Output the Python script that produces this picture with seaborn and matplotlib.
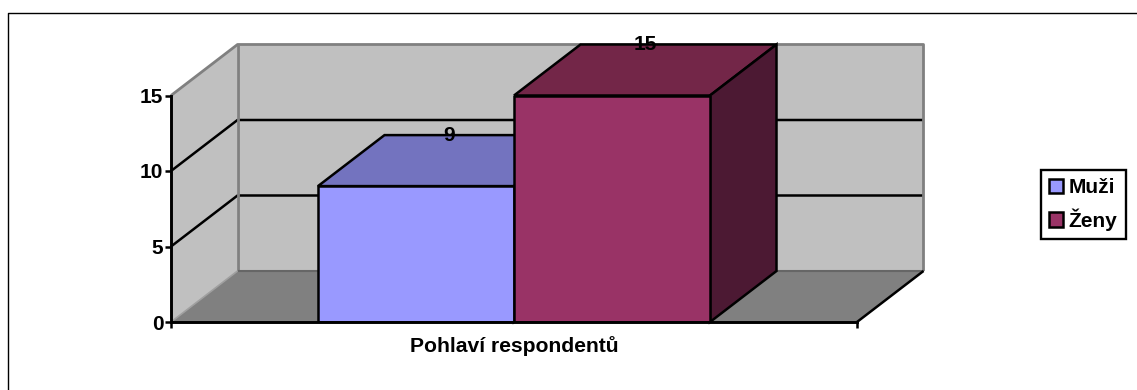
import pandas as pd
import matplotlib
matplotlib.use("Agg")
import matplotlib.pyplot as plt
from matplotlib.patches import Polygon, Rectangle
from matplotlib.lines import Line2D
import seaborn as sns

categories = ["Pohlaví respondentů", "Pohlaví respondentů"]
series = ["Muži", "Ženy"]
values = [9, 15]
y_ticks = [0, 5, 10, 15]

colors = ["#9999FF", "#993366"]
top_colors = ["#7373BF", "#732648"]
side_colors = ["#4C4C80", "#4C1933"]

W, H = 1137, 390
sns.set_theme(style="white", rc={"text.color": "black", "xtick.color": "black", "ytick.color": "black",
                                 "axes.labelcolor": "black"})
plt.rcParams["font.family"] = ["Liberation Sans", "DejaVu Sans"]
plt.rcParams["font.weight"] = "bold"

df = pd.DataFrame({"kat": categories, "pohlavi": series, "pocet": values})

fig = plt.figure(figsize=(W / 100, H / 100), dpi=100)
ax = fig.add_axes([171 / W, (H - 322) / H, 686 / W, 226.5 / H])
ax.patch.set_visible(False)

sns.barplot(data=df, x="kat", y="pocet", hue="pohlavi", palette=colors, hue_order=series,
            width=392 / 686, gap=0, legend=False, saturation=1, edgecolor="black", linewidth=1.8,
            zorder=5, ax=ax)
ax.set_xlim(-0.5, 0.5)
ax.set_ylim(0, 15)

# hloubka 3D sceny v jednotkach dat
dx = 66.5 / 686
dy = 51 / 226.5 * 15
x0, x1 = -0.5, 0.5


def poly(points, fc, ec="none", lw=0, z=1):
    ax.add_patch(Polygon(points, closed=True, facecolor=fc, edgecolor=ec, linewidth=lw,
                         zorder=z, clip_on=False, joinstyle="miter"))


def line(xs, ys, color="black", lw=1.8, z=2):
    ax.plot(xs, ys, color=color, lw=lw, zorder=z, clip_on=False, solid_capstyle="butt")


# steny a podlaha
poly([(x0 + dx, dy), (x1 + dx, dy), (x1 + dx, 15 + dy), (x0 + dx, 15 + dy)], "#C0C0C0")
poly([(x0, 0), (x0 + dx, dy), (x0 + dx, 15 + dy), (x0, 15)], "#C0C0C0")
poly([(x0, 0), (x1, 0), (x1 + dx, dy), (x0 + dx, dy)], "#808080")

for t in y_ticks[1:-1]:
    line([x0, x0 + dx, x1 + dx], [t, t + dy, t + dy])

line([x0, x0 + dx, x1 + dx, x1 + dx], [15, 15 + dy, 15 + dy, dy], color="#808080", lw=2)
line([x0 + dx, x0 + dx], [dy, 15 + dy], color="#808080", lw=2)
line([x0 + dx, x1 + dx], [dy, dy], color="#666666", lw=1.5)
line([x0, x0 + dx], [0, dy], color="#A0A0A0", lw=1.2)
line([x1, x1 + dx], [0, dy], lw=1.8)

# bocni a horni strany sloupcu
for i, p in enumerate(ax.containers):
    b = p[0]
    xa, xb, h = b.get_x(), b.get_x() + b.get_width(), b.get_height()
    z = 4 + i
    b.set_zorder(z + 0.5)
    poly([(xa, h), (xb, h), (xb + dx, h + dy), (xa + dx, h + dy)], top_colors[i], "black", 1.8, z)
    poly([(xb, 0), (xb + dx, dy), (xb + dx, h + dy), (xb, h)], side_colors[i], "black", 1.8, z)
    ax.text((xa + xb) / 2 + dx / 2, h + dy, str(values[i]), ha="center", va="center",
            fontsize=15, fontweight="bold", color="black", zorder=8, clip_on=False)

# osy
sns.despine(ax=ax, top=True, right=True)
for s in ["left", "bottom"]:
    ax.spines[s].set_color("black")
    ax.spines[s].set_linewidth(2.1)
    ax.spines[s].set_zorder(7)
ax.set_yticks(y_ticks)
ax.set_xticks([x0, x1])
ax.set_xticklabels(["", ""])
ax.tick_params(axis="both", direction="out", length=4.5, width=1.8, color="black", left=True,
               bottom=True, labelsize=15, pad=1)
for lab in ax.get_yticklabels():
    lab.set_fontweight("bold")
ax.set_ylabel("")
ax.set_xlabel(categories[0], fontsize=15.2, fontweight="bold", color="black", labelpad=4.5)

# legenda
handles = [Rectangle((0, 0), 1, 1, facecolor=c, edgecolor="black", linewidth=1.8) for c in colors]
leg = fig.legend(handles, series, loc="lower left", bbox_to_anchor=(1041 / W, (H - 239) / H),
                 bbox_transform=fig.transFigure, fontsize=15, frameon=True, fancybox=False,
                 edgecolor="black", framealpha=1, handlelength=0.65, handleheight=0.7,
                 handletextpad=0.28, labelspacing=0.52, borderpad=0.4, borderaxespad=0)
leg.get_frame().set_linewidth(1.7)

# ramecek grafu: jen horni a leva strana
fig.add_artist(Line2D([7.5 / W, 7.5 / W, 1], [0, (H - 12.5) / H, (H - 12.5) / H],
                      transform=fig.transFigure, color="black", lw=1))

fig.savefig("out.png", dpi=100)
